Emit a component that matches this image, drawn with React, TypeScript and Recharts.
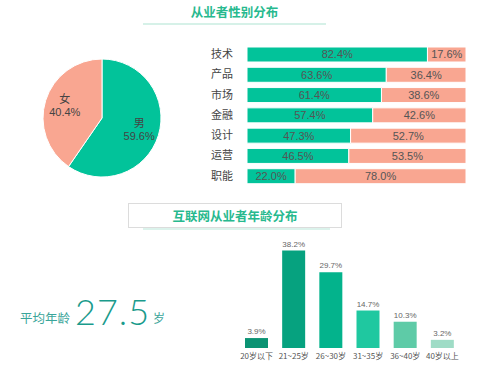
import { PieChart, Pie, Cell, BarChart, Bar, XAxis, YAxis, LabelList } from 'recharts'

const genderNames = ['男', '女']
const genderValues = [59.6, 40.4]

const jobs = ['技术', '产品', '市场', '金融', '设计', '运营', '职能']
const maleShare = [82.4, 63.6, 61.4, 57.4, 47.3, 46.5, 22.0]
const femaleShare = [17.6, 36.4, 38.6, 42.6, 52.7, 53.5, 78.0]

const ageGroups = ['20岁以下', '21~25岁', '26~30岁', '31~35岁', '36~40岁', '40岁以上']
const ageShare = [3.9, 38.2, 29.7, 14.7, 10.3, 3.2]

const TEAL = '#02c39a'
const SALMON = '#f9a691'
const GREEN_TITLE = '#27b98e'
const FONT = "'Liberation Sans', 'Noto Sans CJK SC', sans-serif"
const CJK = "'Noto Sans CJK SC', sans-serif"

const ageColors = ['#0b9373', '#06a27f', '#03b38c', '#1fc8a0', '#5ecba7', '#9fdcc6']

const pct = (v: any) => `${Number(v).toFixed(1)}%`

function PieLabel(props: any) {
  const { cx, cy, midAngle, outerRadius, index } = props
  const RAD = Math.PI / 180
  const r = outerRadius * 0.66
  const x = cx + r * Math.cos(-midAngle * RAD)
  const y = cy + r * Math.sin(-midAngle * RAD)
  return (
    <text x={x} y={y} textAnchor="middle" fill="#444" fontSize={11} fontFamily={FONT}>
      <tspan x={x} dy={-3}>{genderNames[index]}</tspan>
      <tspan x={x} dy={13}>{pct(genderValues[index])}</tspan>
    </text>
  )
}

export default function App() {
  const pieData = genderNames.map((n, i) => ({ name: n, value: genderValues[i] }))
  const jobData = jobs.map((j, i) => ({ job: j, male: maleShare[i], female: femaleShare[i] }))
  const ageData = ageGroups.map((a, i) => ({ age: a, share: ageShare[i] }))

  return (
    <div style={{ position: 'absolute', left: 0, top: 0, width: 500, height: 383, background: '#fff', fontFamily: FONT, overflow: 'hidden' }}>
      {/* top title */}
      <div style={{ position: 'absolute', left: 143, width: 183, top: 3, textAlign: 'center', fontFamily: CJK, fontWeight: 700, fontSize: 12.5, color: GREEN_TITLE, lineHeight: '18px' }}>
        从业者性别分布
      </div>
      <div style={{ position: 'absolute', left: 143, width: 183, top: 23, height: 2, background: '#d6f1e8' }} />

      {/* gender pie */}
      <div style={{ position: 'absolute', left: 0, top: 0 }}>
        <PieChart width={200} height={230}>
          <Pie
            data={pieData}
            dataKey="value"
            cx={97}
            cy={113}
            outerRadius={59}
            startAngle={90}
            endAngle={-270}
            stroke="#fff"
            strokeWidth={1}
            label={PieLabel}
            labelLine={false}
            isAnimationActive={false}
          >
            <Cell fill={TEAL} />
            <Cell fill={SALMON} />
          </Pie>
        </PieChart>
      </div>

      {/* gender by job */}
      <div style={{ position: 'absolute', left: 200, top: 40 }}>
        <BarChart
          width={280}
          height={150}
          data={jobData}
          layout="vertical"
          barSize={15}
          margin={{ top: 4, right: 14, bottom: 4, left: 0 }}
        >
          <XAxis type="number" hide domain={[0, 100]} />
          <YAxis
            type="category"
            dataKey="job"
            width={47}
            interval={0}
            axisLine={false}
            tickLine={false}
            tickSize={0}
            tickMargin={14}
            tick={{ fontSize: 11, fill: '#444', fontFamily: CJK }}
          />
          <Bar dataKey="male" stackId="g" fill={TEAL} stroke="#fff" strokeWidth={1} isAnimationActive={false}>
            <LabelList dataKey="male" position="center" formatter={pct} style={{ fontSize: 11, fill: '#555', fontFamily: FONT }} />
          </Bar>
          <Bar dataKey="female" stackId="g" fill={SALMON} stroke="#fff" strokeWidth={1} isAnimationActive={false}>
            <LabelList dataKey="female" position="center" formatter={pct} style={{ fontSize: 11, fill: '#555', fontFamily: FONT }} />
          </Bar>
        </BarChart>
      </div>

      {/* age title box */}
      <div style={{ position: 'absolute', left: 143, width: 187, top: 226, height: 4, background: '#dcf3ec' }} />
      <div style={{ position: 'absolute', left: 128, top: 203, width: 212, height: 23, border: '1px solid #dcdcdc', background: '#fff', textAlign: 'center', fontFamily: CJK, fontWeight: 700, fontSize: 12.5, color: GREEN_TITLE, lineHeight: '23px' }}>
        互联网从业者年龄分布
      </div>

      {/* average age */}
      <div style={{ position: 'absolute', left: 20, top: 310, fontFamily: CJK, fontSize: 12.5, color: '#3aa59a', lineHeight: '16px' }}>平均年龄</div>
      <div style={{ position: 'absolute', left: 75, top: 291, fontFamily: "'Lato', 'Liberation Sans', sans-serif", fontWeight: 300, fontSize: 36, color: '#1a9b8c', lineHeight: '40px', letterSpacing: 1 }}>27.5</div>
      <div style={{ position: 'absolute', left: 153, top: 310, fontFamily: CJK, fontSize: 12, color: '#3aa59a', lineHeight: '16px' }}>岁</div>

      {/* age distribution */}
      <div style={{ position: 'absolute', left: 200, top: 220 }}>
        <BarChart
          width={290}
          height={150}
          data={ageData}
          barSize={23}
          margin={{ top: 26, right: 29, bottom: 0, left: 38 }}
        >
          <XAxis
            dataKey="age"
            height={22}
            axisLine={false}
            tickLine={false}
            tickSize={0}
            tickMargin={5}
            interval={0}
            tick={{ fontSize: 8, fill: '#555', fontFamily: CJK }}
          />
          <YAxis hide domain={[0, 40]} />
          <Bar dataKey="share" isAnimationActive={false}>
            {ageData.map((_, i) => (
              <Cell key={i} fill={ageColors[i]} />
            ))}
            <LabelList dataKey="share" position="top" offset={4} formatter={pct} style={{ fontSize: 8, fill: '#666', fontFamily: FONT }} />
          </Bar>
        </BarChart>
      </div>
    </div>
  )
}
